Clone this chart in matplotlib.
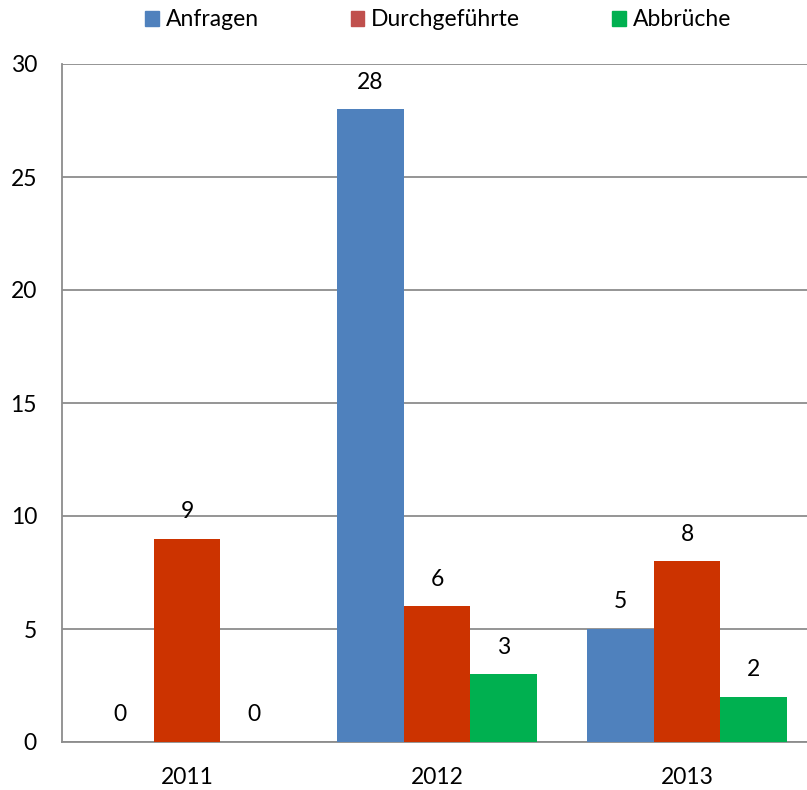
import numpy as np
import matplotlib
matplotlib.use("Agg")
import matplotlib.pyplot as plt
from matplotlib.patches import Patch

plt.rcParams['font.family'] = ['Lato', 'DejaVu Sans']

# Chart data
years = ["2011", "2012", "2013"]
series_names = ["Anfragen", "Durchgeführte", "Abbrüche"]
anfragen = [0, 28, 5]
durchgefuehrte = [9, 6, 8]
abbrueche = [0, 3, 2]

bar_colors = ["#4F81BD", "#CC3300", "#00B050"]
legend_colors = ["#4F81BD", "#C0504D", "#00B050"]

W, H = 807, 790
fig = plt.figure(figsize=(W / 100, H / 100), dpi=100)
ax = fig.add_axes([62 / W, (H - 742) / H, (812 - 62) / W, (742 - 64) / H])

x = np.arange(len(years))
width = 0.8 / 3
for i, vals in enumerate([anfragen, durchgefuehrte, abbrueche]):
    pos = x + (i - 1) * width
    ax.bar(pos, vals, width, color=bar_colors[i], zorder=3)
    for px, v in zip(pos, vals):
        ax.annotate(str(v), (px, v), xytext=(0, 12), textcoords="offset points",
                    ha="center", va="bottom", fontsize=16.5)

ax.set_xlim(-0.5, 2.5)
ax.set_ylim(0, 30)
ax.set_yticks(range(0, 31, 5))
ax.set_xticks(x)
ax.set_xticklabels(years)
ax.yaxis.grid(True, color="#8C8C8C", linewidth=1.3, zorder=0)
ax.set_axisbelow(True)
for s in ["top", "right"]:
    ax.spines[s].set_visible(False)
for s in ["left", "bottom"]:
    ax.spines[s].set_color("#8C8C8C")
    ax.spines[s].set_linewidth(1.3)
ax.tick_params(axis="both", length=0, labelsize=16.5)
ax.tick_params(axis="y", pad=18)
ax.tick_params(axis="x", pad=18)

handles = [Patch(color=c, label=n) for c, n in zip(legend_colors, series_names)]
fig.legend(handles=handles, loc="center", bbox_to_anchor=(438 / W, 1 - 20 / H),
           ncol=3, frameon=False, fontsize=16.5, handlelength=0.6, handleheight=0.6,
           handletextpad=0.3, columnspacing=4.0)

fig.savefig("out.png", dpi=100)
